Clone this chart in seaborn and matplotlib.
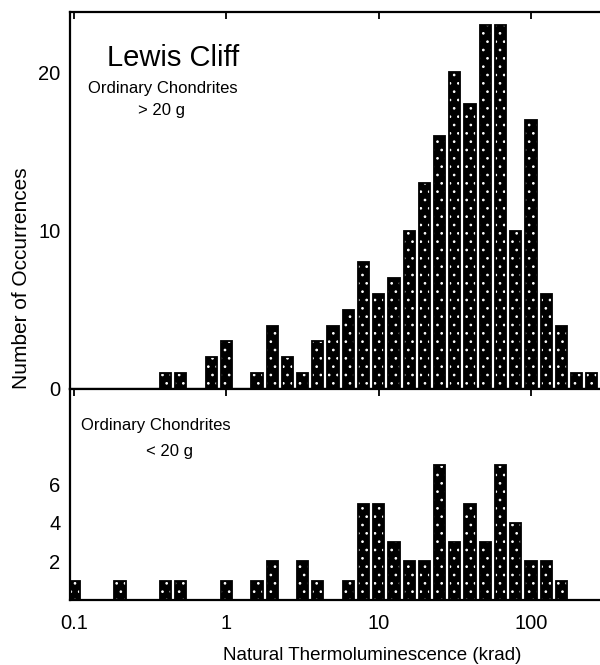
import matplotlib
matplotlib.use("Agg")
import matplotlib.pyplot as plt
import seaborn as sns
import numpy as np

# ---- data: bin centres (krad, 0.1-decade log bins) and counts ----
tl_large = [0.398, 0.501, 0.794, 1.0, 1.585, 1.995, 2.512, 3.162, 3.981, 5.012,
            6.310, 7.943, 10.0, 12.59, 15.85, 19.95, 25.12, 31.62, 39.81, 50.12,
            63.10, 79.43, 100.0, 125.9, 158.5, 199.5, 251.2]
count_large = [1, 1, 2, 3, 1, 4, 2, 1, 3, 4,
               5, 8, 6, 7, 10, 13, 16, 20, 18, 23,
               23, 10, 17, 6, 4, 1, 1]

tl_small = [0.1, 0.1995, 0.398, 0.501, 1.0, 1.585, 1.995, 3.162, 3.981, 6.310,
            7.943, 10.0, 12.59, 15.85, 19.95, 25.12, 31.62, 39.81, 50.12, 63.10,
            79.43, 100.0, 125.9, 158.5]
count_small = [1, 1, 1, 1, 1, 1, 2, 2, 1, 1,
               5, 5, 3, 2, 2, 7, 3, 5, 3, 7,
               4, 2, 2, 1]

x_ticks = [0.1, 1, 10, 100]
x_ticklabels = ["0.1", "1", "10", "100"]

sns.set_theme(style="white")
plt.rcParams["font.family"] = ["Liberation Sans", "DejaVu Sans"]
plt.rcParams["hatch.linewidth"] = 0.7
plt.rcParams["text.color"] = "black"
plt.rcParams["axes.labelcolor"] = "black"
plt.rcParams["xtick.color"] = "black"
plt.rcParams["ytick.color"] = "black"

W, H = 600, 665
fig = plt.figure(figsize=(W / 100, H / 100), dpi=100)
fig.patch.set_facecolor("white")

def fx(px):
    return px / W

def fy(py):
    return 1 - py / H

ax_top = fig.add_axes([fx(70), fy(389), fx(600) - fx(70), fy(12) - fy(389)])
ax_bot = fig.add_axes([fx(70), fy(600), fx(600) - fx(70), fy(389) - fy(600)])

hist_kw = dict(log_scale=True, binwidth=0.1, binrange=(-1.05, 2.45), shrink=0.74)

for ax, xs, cs in [(ax_top, tl_large, count_large), (ax_bot, tl_small, count_small)]:
    sns.histplot(x=xs, weights=cs, ax=ax, color="black", edgecolor="white",
                 linewidth=0, hatch="..", alpha=1, **hist_kw)
    sns.histplot(x=xs, weights=cs, ax=ax, color="black", fill=False,
                 linewidth=1.3, **hist_kw)
    ax.set_xscale("log")
    ax.set_xlim(0.094, 285)
    ax.set_xticks(x_ticks)
    ax.minorticks_off()
    ax.set_xlabel("")
    ax.set_ylabel("")
    ax.set_facecolor("white")
    for s in ["left", "top", "bottom"]:
        ax.spines[s].set_visible(True)
        ax.spines[s].set_linewidth(1.6)
        ax.spines[s].set_color("black")
    ax.spines["right"].set_visible(False)
    ax.tick_params(axis="both", direction="in", length=5, width=1.3,
                   colors="black", labelcolor="black", labelsize=14.5)
    ax.tick_params(axis="y", pad=7)

# top panel
ax_top.set_ylim(0, 23.8)
ax_top.set_yticks([0, 5, 10, 15, 20])
ax_top.set_yticklabels(["0", "", "10", "", "20"])
ax_top.tick_params(axis="x", top=True, bottom=False, labelbottom=False)

# bottom panel
ax_bot.set_ylim(0, 10.95)
ax_bot.set_yticks([1, 2, 3, 4, 5, 6, 7])
ax_bot.set_yticklabels(["", "2", "", "4", "", "6", ""])
ax_bot.tick_params(axis="x", top=True, bottom=True, pad=10)
ax_bot.set_xticklabels(x_ticklabels)

# texts
fig.text(fx(173), fy(66), "Lewis Cliff", ha="center", va="baseline", fontsize=21,
         color="black")
fig.text(fx(163), fy(93), "Ordinary Chondrites", ha="center", va="baseline",
         fontsize=12, color="black")
fig.text(fx(161), fy(115), "> 20 g", ha="center", va="baseline", fontsize=12,
         color="black")
fig.text(fx(156), fy(430), "Ordinary Chondrites", ha="center", va="baseline",
         fontsize=12, color="black")
fig.text(fx(170), fy(456), "< 20 g", ha="center", va="baseline", fontsize=12,
         color="black")
fig.text(fx(22), fy(278), "Number of Occurrences", rotation=90, ha="center",
         va="center", fontsize=15, color="black")
fig.text(fx(372), fy(660), "Natural Thermoluminescence (krad)", ha="center",
         va="baseline", fontsize=13.5, color="black")

fig.savefig("out.png", dpi=100, facecolor="white")
